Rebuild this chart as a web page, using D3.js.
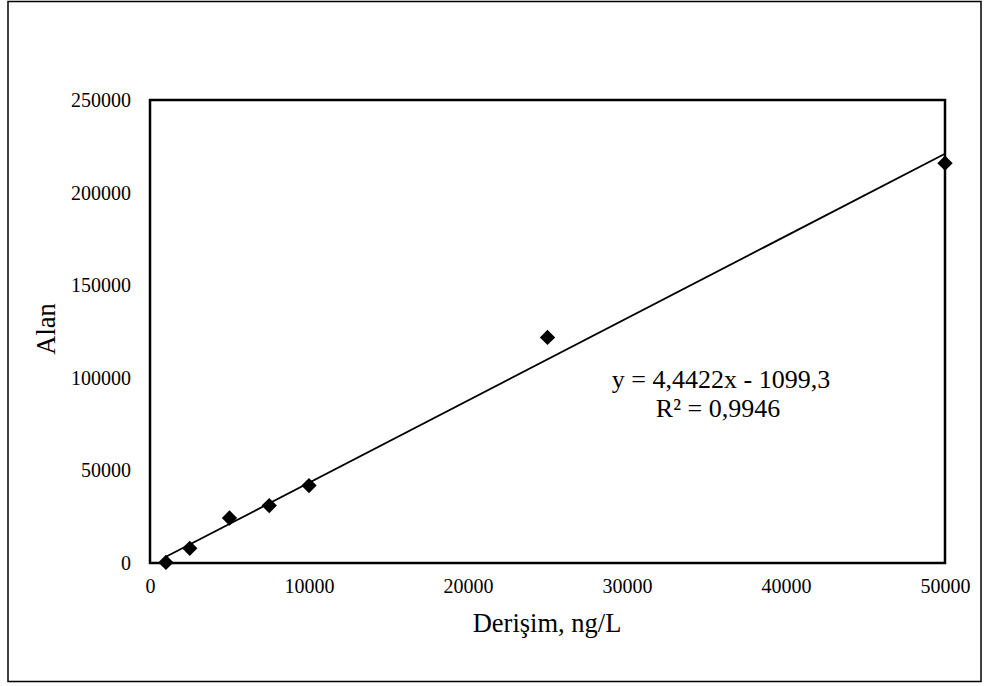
<!DOCTYPE html>
<meta charset="utf-8">
<style>
body { margin: 0; background: #fff; }
text { font-family: "Liberation Serif", "Times New Roman", serif; fill: #000; }
</style>
<svg width="988" height="686"></svg>
<script src="https://d3js.org/d3.v7.min.js"></script>
<script>

var concentration = [1000, 2500, 5000, 7500, 10000, 25000, 50000];
var area = [300, 7900, 24300, 31000, 41800, 121800, 215900];
var xTicks = [0, 10000, 20000, 30000, 40000, 50000];
var yTicks = [0, 50000, 100000, 150000, 200000, 250000];
var slope = 4.4422, intercept = -1099.3;
var trendRange = [1000, 50000];

var svg = d3.select("svg"),
    margin = {top: 100, right: 43, bottom: 123, left: 150},
    width = +svg.attr("width") - margin.left - margin.right,
    height = +svg.attr("height") - margin.top - margin.bottom;

// outer chart border
svg.append("rect")
    .attr("x", 8).attr("y", 1.5)
    .attr("width", 973).attr("height", 680)
    .attr("fill", "none").attr("stroke", "#000").attr("stroke-width", 1.5);

var x = d3.scaleLinear().domain([0, 50000]).range([0, width]),
    y = d3.scaleLinear().domain([0, 250000]).range([height, 0]);

var g = svg.append("g")
    .attr("transform", "translate(" + margin.left + "," + margin.top + ")");

g.append("rect")
    .attr("width", width).attr("height", height)
    .attr("fill", "none").attr("stroke", "#000").attr("stroke-width", 2.5);

var xAxis = g.append("g")
    .attr("transform", "translate(0," + height + ")")
    .call(d3.axisBottom(x).tickValues(xTicks).tickSize(0).tickPadding(16).tickFormat(d3.format("d")));
xAxis.select(".domain").remove();
xAxis.selectAll("text").style("font-size", "20px").style("font-family", "Liberation Serif");

var yAxis = g.append("g")
    .call(d3.axisLeft(y).tickValues(yTicks).tickSize(0).tickPadding(19).tickFormat(d3.format("d")));
yAxis.select(".domain").remove();
yAxis.selectAll("text").style("font-size", "20px").style("font-family", "Liberation Serif");

// trendline
g.append("line")
    .attr("x1", x(trendRange[0])).attr("y1", y(slope * trendRange[0] + intercept))
    .attr("x2", x(trendRange[1])).attr("y2", y(slope * trendRange[1] + intercept))
    .attr("stroke", "#000").attr("stroke-width", 1.8);

g.selectAll(".pt")
    .data(concentration)
    .enter().append("path")
      .attr("class", "pt")
      .attr("d", d3.symbol().type(d3.symbolDiamond2).size(150))
      .attr("transform", function(d, i) { return "translate(" + x(d) + "," + y(area[i]) + ")"; })
      .attr("fill", "#000");

g.append("text")
    .attr("x", 571).attr("y", 288)
    .attr("text-anchor", "middle")
    .style("font-size", "26px")
    .text("y = 4,4422x - 1099,3");
g.append("text")
    .attr("x", 568).attr("y", 317)
    .attr("text-anchor", "middle")
    .style("font-size", "26px")
    .text("R² = 0,9946");

svg.append("text")
    .attr("x", 547).attr("y", 632)
    .attr("text-anchor", "middle")
    .style("font-size", "26.5px")
    .text("Derişim, ng/L");

svg.append("text")
    .attr("transform", "translate(55,329) rotate(-90)")
    .attr("text-anchor", "middle")
    .style("font-size", "26.5px")
    .text("Alan");

</script>
